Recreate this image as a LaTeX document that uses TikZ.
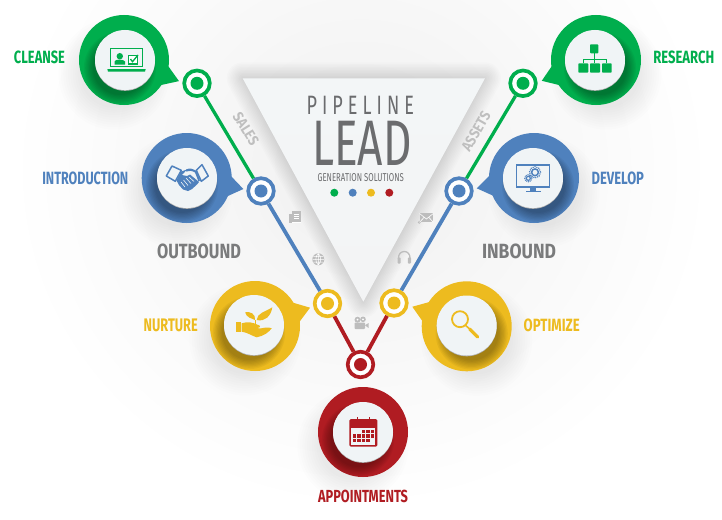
\documentclass[tikz,border=0pt]{standalone}
\usepackage{fontspec}
\usepackage{graphicx}
\setmainfont{Liberation Sans}
\newfontfamily\narrowf{Fira Sans}
\usetikzlibrary{calc}
\definecolor{cgreen}{HTML}{00AE4D}
\definecolor{cblue}{HTML}{4F81BD}
\definecolor{cyellow}{HTML}{EDBB1F}
\definecolor{cred}{HTML}{B01C22}
\definecolor{cdisk}{HTML}{F0F4F6}
\definecolor{ctitle}{HTML}{6B6C6E}
\definecolor{cicon}{HTML}{BDBDBD}
\definecolor{ctri}{HTML}{F3F6F7}
\definecolor{ctrib}{HTML}{F3F4F5}
\tikzset{
  ringnode/.style={circle,draw=#1,fill=white,line width=3.7pt,minimum size=25.6pt,inner sep=0pt},
  dotnode/.style={circle,fill=#1,minimum size=13pt,inner sep=0pt,outer sep=0pt},
  conn/.style={line width=3.8pt},
  disknode/.style={circle,fill=cdisk,minimum size=60pt,inner sep=0pt,outer sep=0pt},
  txt/.style={inner sep=0pt,outer sep=0pt},
  ic/.style={fill=cicon,draw=none}
}
% #1 width, #2 height, #3 text
\newcommand\fitbox[3]{\resizebox{#1pt}{#2pt}{#3}}
\newcommand\lbl[1]{{\narrowf\bfseries #1}}
% #1 name #2 x #3 y #4 colour #5 tip angle #6 tip distance #7 shadow sign #8 disk x #9 disk y
\newcommand\bubble[9]{%
  \foreach \i in {0,...,9}{%
    \pgfmathsetmacro\rr{34+\i*2.4}%
    \fill[black,opacity=.009] ({#2+#7*10},{#3+14}) circle (\rr pt);}%
  \fill[#4] (#2,#3) circle (45pt);
  \fill[#4] ($(#2,#3)+(#5-14:44)$) -- ($(#2,#3)+(#5:#6)$) -- ($(#2,#3)+(#5+14:44)$) -- cycle;
  \begin{scope}
    \clip (#2,#3) circle (45pt);
    \foreach \i in {0,...,7}{%
      \pgfmathsetmacro\rr{27+\i*1.3}%
      \fill[black,opacity=.045] ({#8+#7*5},{#9+8}) circle (\rr pt);}%
  \end{scope}
  \fill[black!30] (#8,{#9+0.8}) circle (30pt);
  \node[disknode] (#1) at (#8,#9) {};
}
\begin{document}
\begin{tikzpicture}[x=1pt,y=-1pt]
\useasboundingbox (0,0) rectangle (722,519);
\clip (0,0) rectangle (722,519);
\fill[white] (0,0) rectangle (722,519);
% soft background
\shade[inner color=black!6,outer color=white] (361,170) ellipse (350pt and 340pt);
% triangle shadow
\foreach \w in {2,5,...,32}{%
  \draw[black,opacity=.012,line width=\w pt,line join=round] (242.7,78.3) -- (485,78.3) -- (363.3,301.7) -- cycle;}
\shade[top color=ctri,bottom color=ctrib] (242.7,78.3) -- (485,78.3) -- (363.3,301.7) -- cycle;
% bubbles
\bubble{dGL}{124}{60}{cgreen}{21}{58.9}{-1}{125}{60}
\bubble{dBL}{186.7}{178}{cblue}{11}{57.7}{-1}{187}{178}
\bubble{dYL}{255}{326}{cyellow}{-18.4}{58}{-1}{254}{325}
\bubble{dR}{363}{432}{cred}{90}{0}{-1}{363}{432}
\bubble{dYR}{466.7}{326.3}{cyellow}{199.8}{57.8}{1}{466.7}{325.5}
\bubble{dBR}{534}{178}{cblue}{169.8}{58.2}{1}{533}{178}
\bubble{dGR}{596}{60}{cgreen}{159}{58.1}{1}{595}{60}
% rings
\node[ringnode=cgreen] (rGL) at (197,83.3) {};
\node[ringnode=cblue] (rBL) at (261,191) {};
\node[ringnode=cyellow] (rYL) at (327.5,303.5) {};
\node[ringnode=cred] (rR) at (360.5,364.5) {};
\node[ringnode=cyellow] (rYR) at (394,303) {};
\node[ringnode=cblue] (rBR) at (459,191) {};
\node[ringnode=cgreen] (rGR) at (523,83.3) {};
\node[dotnode=cgreen] (pGL) at (rGL) {};
\node[dotnode=cblue] (pBL) at (rBL) {};
\node[dotnode=cyellow] (pYL) at (rYL) {};
\node[dotnode=cred] (pR) at (rR) {};
\node[dotnode=cyellow] (pYR) at (rYR) {};
\node[dotnode=cblue] (pBR) at (rBR) {};
\node[dotnode=cgreen] (pGR) at (rGR) {};
% connectors
\draw[conn,cgreen,line width=3.3pt] (rGL) -- (rBL);
\draw[conn,cblue] (rBL) -- (rYL);
\draw[conn,cred] (rYL) -- (rR);
\draw[conn,cred] (rYR) -- (rR);
\draw[conn,cblue] (rYR) -- (rBR);
\draw[conn,cgreen,line width=3.3pt] (rBR) -- (rGR);
% labels
\node[txt,text=cgreen] (tCleanse) at (39.5,57) {\fitbox{51}{12.6}{\lbl{CLEANSE}}};
\node[txt,text=cblue] (tIntro) at (85.3,178) {\fitbox{86}{12.6}{\lbl{INTRODUCTION}}};
\node[txt,text=cyellow] (tNurture) at (170.7,325.3) {\fitbox{54}{12.6}{\lbl{NURTURE}}};
\node[txt,text=cred] (tAppt) at (363,496.2) {\fitbox{90}{12.4}{\lbl{APPOINTMENTS}}};
\node[txt,text=cyellow] (tOpt) at (551.7,325.3) {\fitbox{56}{12.6}{\lbl{OPTIMIZE}}};
\node[txt,text=cblue] (tDev) at (617.8,178) {\fitbox{52.4}{12.6}{\lbl{DEVELOP}}};
\node[txt,text=cgreen] (tRes) at (683.8,57) {\fitbox{61}{12.6}{\lbl{RESEARCH}}};
\node[txt,text=ctitle!90!white] (tOut) at (199,251.7) {\fitbox{84}{14.6}{\lbl{OUTBOUND}}};
\node[txt,text=ctitle!90!white] (tIn) at (519,251.7) {\fitbox{74}{14.6}{\lbl{INBOUND}}};
\node[txt,text=black!25,rotate=-58] (tSales) at (246,129) {\fitbox{36}{10.5}{\lbl{SALES}}};
\node[txt,text=black!25,rotate=60] (tAssets) at (476,131.5) {\fitbox{43}{10.5}{\lbl{ASSETS}}};
\node[txt,text=ctitle] (tPipe) at (360.3,105.8) {\fitbox{107.3}{18.3}{{\narrowf\addfontfeature{LetterSpace=28}PIPELINE}}};
\node[txt,text=ctitle] (tLead) at (362,143.8) {\fitbox{99.4}{44.3}{{\narrowf LEAD}}};
\node[txt,text=ctitle] (tGen) at (360.8,178) {\fitbox{86.3}{8}{{\narrowf GENERATION SOLUTIONS}}};
\node[dotnode=cgreen,minimum size=8pt] (c1) at (334.3,192.7) {};
\node[dotnode=cblue,minimum size=8pt] (c2) at (352.7,192.7) {};
\node[dotnode=cyellow,minimum size=8pt] (c3) at (371,192.7) {};
\node[dotnode=cred,minimum size=8pt] (c4) at (389.3,192.7) {};
% icon: laptop
\begin{scope}[shift={(dGL.center)}]
  \draw[cgreen,line width=1.6pt] (-14.5,-11.3) rectangle (17.5,6.5);
  \fill[cgreen] (-10.5,4.5) -- (-10.5,1.5) .. controls (-10.5,-1) and (-1,-1) .. (0,1.5) -- (0,4.5) -- cycle;
  \fill[cgreen] (-5.2,-3.8) circle (3.2pt);
  \draw[cgreen,line width=1.1pt,fill=white] (3.5,-4.2) rectangle (12.5,4);
  \draw[cgreen,line width=1.3pt] (5.5,-1) -- (7.5,1.7) -- (13,-5);
  \fill[cgreen] (-17.7,9) -- (20.7,9) -- (20,11.6) -- (-17,11.6) -- cycle;
\end{scope}
% icon: handshake
\begin{scope}[shift={(dBL.center)}]
  \draw[cblue,line width=1.5pt,line join=round] (-20.7,-2) -- (-15,-12) -- (-5.7,-7.7) -- (-11.7,3.3) -- cycle;
  \draw[cblue,line width=1.5pt,line join=round] (9.3,-7.7) -- (15,-13.3) -- (21.3,-2) -- (14.3,3.3) -- cycle;
  \fill[cblue] (-10.5,2.5) -- (-6,-6.5) -- (0,-8.5) -- (-5,-3) -- (0,-2) -- (3,-3.5) -- (12,4) -- (10,6.5) -- (5,11) -- (1,13) -- (-4,11.5) -- (-8,7) -- cycle;
  \fill[cblue] (-1,-8.5) .. controls (3,-10.5) and (6,-9) .. (9.5,-7) -- (13,2.5) -- (11.5,3.5) -- (8,-5.5) .. controls (5,-7.5) and (2,-7.5) .. (-1,-6.5) -- cycle;
  \draw[cdisk,line width=.6pt] (-6,4) -- (-2,9) (-3.5,2) -- (1,7.5) (-1,0) -- (4,5.5) (2,-1) -- (7,3.5);
\end{scope}
% icon: plant in hand
\begin{scope}[shift={(dYL.center)}]
  \fill[cyellow] (-18.3,-2.7) rectangle (-13.3,7.3);
  \fill[cyellow] (-12.3,-1.7) .. controls (-6,-4) and (0,-2) .. (3,-0.5) .. controls (7,0) and (7,3) .. (3,3) -- (6,3.5) .. controls (10,3) and (14,1.5) .. (17.7,3.3) .. controls (15,7) and (10,11) .. (2.7,12.3) .. controls (-2,11) and (-5,8) .. (-12.3,6.7) -- cycle;
  \fill[cyellow] (1,-5) .. controls (-3,-7) and (-7,-7) .. (-9,-12.7) .. controls (-4,-14) and (2,-11) .. (1,-5) -- cycle;
  \fill[cyellow] (2.7,-5) .. controls (3,-12) and (11,-13) .. (18.3,-17.7) .. controls (17,-9) and (11,-3) .. (2.7,-5) -- cycle;
  \draw[cyellow,line width=.7pt] (1.5,-5) -- (1.5,-0.5);
\end{scope}
% icon: calendar
\begin{scope}[shift={(dR.center)}]
  \fill[cred,rounded corners=1.5pt] (-13.7,-13) rectangle (14.3,14.7);
  \fill[cdisk] (-11.7,-4.5) rectangle (12.3,12.7);
  \draw[cred,line width=1pt] (-5.7,-12) -- (-5.7,-15.5);
  \draw[cred,line width=1pt] (6,-12) -- (6,-15.5);
  \foreach \cx/\cy in {2/0,3/0,4/0,0/1,1/1,2/1,3/1,4/1,0/2,1/2,2/2,3/2}{%
    \fill[cred] ({-10.5+\cx*4.5},{-2.2+\cy*4.5}) rectangle ++(3.5,3.5);}
\end{scope}
% icon: magnifier
\begin{scope}[shift={(dYR.center)}]
  \draw[cyellow,line width=1.8pt] (-6.7,-6.3) circle (8pt);
  \draw[cyellow,line width=1.6pt] (-1,0) -- (3,3.5);
  \draw[cyellow,line width=3.2pt,line cap=round] (3,3.5) -- (11,11.5);
\end{scope}
% icon: monitor with gears
\begin{scope}[shift={(dBR.center)}]
  \draw[cblue,line width=1.4pt] (-16.3,-13) rectangle (16.3,8.6);
  \fill[cblue] (-17,7.5) rectangle (17,10.3);
  \fill[cblue] (-3,10.3) rectangle (3,13);
  \fill[cblue] (-7.5,13) rectangle (7.5,14.2);
  \draw[cblue,line width=1.2pt,dash pattern=on 1.1pt off .9pt] (2,-5.7) circle (5.6pt);
  \draw[cblue,line width=1.5pt] (2,-5.7) circle (3.4pt);
  \draw[cblue,line width=1.1pt,dash pattern=on 1pt off .8pt] (-4.7,0.3) circle (3.6pt);
  \draw[cblue,line width=1.2pt] (-4.7,0.3) circle (2pt);
\end{scope}
% icon: org chart
\begin{scope}[shift={(dGR.center)}]
  \fill[cgreen,rounded corners=.8pt] (-5,-15.7) rectangle (3.3,-6.7);
  \draw[cgreen,line width=1.2pt] (-.8,-6.7) -- (-.8,3.3) (-11.7,3.3) -- (-11.7,-.7) -- (11.7,-.7) -- (11.7,3.3);
  \fill[cgreen,rounded corners=.8pt] (-16.7,3.3) rectangle (-6.7,12.7);
  \fill[cgreen,rounded corners=.8pt] (-5,3.3) rectangle (5,12.7);
  \fill[cgreen,rounded corners=.8pt] (7,3.3) rectangle (16.7,12.7);
\end{scope}
% small grey icons
\fill[ic] (289.3,213.5) rectangle (296.5,223.3);
\fill[white] (291.6,211.8) rectangle (301.4,223);
\fill[ic] (292.3,210.7) rectangle (300.7,222);
\draw[white,line width=.6pt] (294,214) -- (299,214) (294,216.3) -- (299,216.3) (294,218.6) -- (299,218.6);
\fill[ic] (318.3,259.3) circle (6pt);
\draw[white,line width=.5pt] (312.5,259.3) -- (324,259.3) (313.3,256.5) -- (323.3,256.5) (313.3,262) -- (323.3,262) (318.3,253.5) -- (318.3,265)
  (318.3,253.5) .. controls (315,256) and (315,262.5) .. (318.3,265) (318.3,253.5) .. controls (321.5,256) and (321.5,262.5) .. (318.3,265);
\fill[ic] (419.5,213.3) rectangle (433.3,222.3);
\fill[ic] (419.3,222.3) circle (1.6pt);
\draw[white,line width=.6pt] (419.5,213.5) -- (426.4,219) -- (433.3,213.5) (419.5,222.3) -- (424,217.5) (433.3,222.3) -- (429,217.5);
\draw[cicon,line width=1.3pt] (398.5,259) .. controls (397.5,249) and (411,249) .. (410,259);
\fill[ic,rounded corners=.8pt] (397.5,257.5) rectangle (400.7,263.5);
\fill[ic,rounded corners=.8pt] (407.8,257.5) rectangle (411,263.5);
\fill[ic] (357.5,319.7) circle (3pt);
\fill[ic] (363,319.3) circle (2.8pt);
\fill[ic,rounded corners=.8pt] (354.5,322.5) rectangle (365,329);
\fill[ic] (365,325.3) -- (368.5,323) -- (368.5,328) -- cycle;
\fill[white] (357.5,319.7) circle (1pt);
\fill[white] (363,319.3) circle (1pt);
\end{tikzpicture}
\end{document}
